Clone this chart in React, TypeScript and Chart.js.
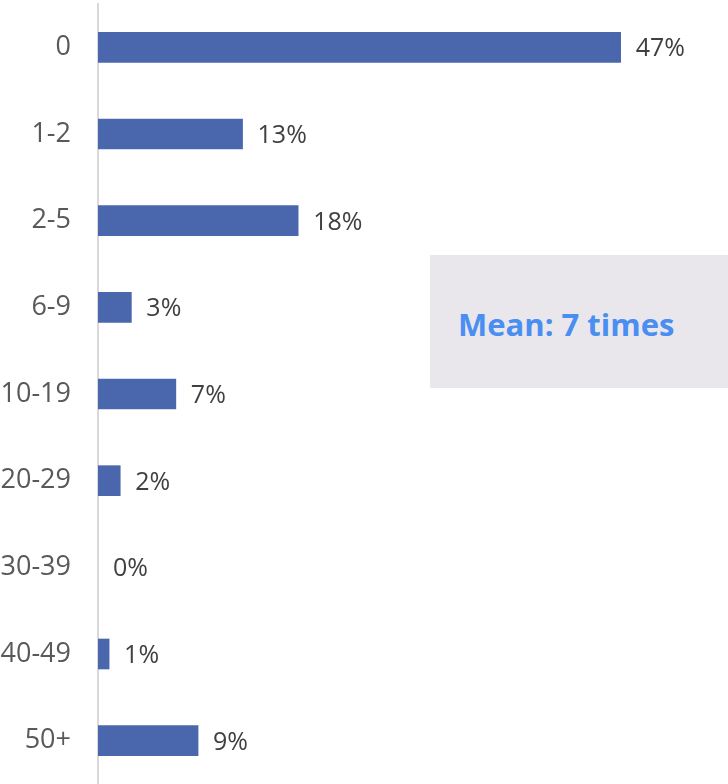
import React, { useEffect, useRef } from "react";
import { Chart, registerables } from "chart.js";

Chart.register(...registerables);

const categories = ["0", "1-2", "2-5", "6-9", "10-19", "20-29", "30-39", "40-49", "50+"];
const values = [47, 13, 18, 3, 7, 2, 0, 1, 9];
const meanLabel = "Mean: 7 times";

const valueLabels = {
  id: "valueLabels",
  afterDatasetsDraw(chart: any) {
    const ctx = chart.ctx;
    const meta = chart.getDatasetMeta(0);
    ctx.save();
    ctx.font = "25px 'Open Sans', sans-serif";
    ctx.fillStyle = "#404040";
    ctx.textAlign = "left";
    ctx.textBaseline = "middle";
    meta.data.forEach((bar: any, i: number) => {
      ctx.fillText(values[i] + "%", bar.x + 15, bar.y + 2);
    });
    ctx.restore();
  },
};

export default function App() {
  const ref = useRef<HTMLCanvasElement>(null);
  useEffect(() => {
    document.body.style.margin = "0";
    const chart = new Chart(ref.current!, {
      type: "bar",
      data: {
        labels: categories,
        datasets: [
          {
            data: values,
            backgroundColor: (c: any) => (c.raw === 0 ? "rgba(0,0,0,0)" : "#4a67ad"),
            barThickness: 30,
          },
        ],
      },
      options: {
        indexAxis: "y",
        animation: false,
        responsive: false,
        layout: { padding: { top: 4, right: 74, bottom: 0, left: 0 } },
        plugins: { legend: { display: false }, tooltip: { enabled: false } },
        scales: {
          x: { display: false, min: 0, max: 50 },
          y: {
            grid: { display: false, drawTicks: false },
            border: { display: true, color: "#d9d9d9", width: 2 },
            ticks: {
              color: "#595959",
              font: { family: "'Open Sans', sans-serif", size: 27 },
              padding: 27,
            },
            afterFit: (scale: any) => {
              scale.width = 98;
              scale.paddingTop = 0;
              scale.paddingBottom = 0;
            },
          },
        },
      },
      plugins: [valueLabels],
    });
    return () => chart.destroy();
  }, []);
  return (
    <div style={{ position: "absolute", left: 0, top: 0, width: 728, height: 784 }}>
      <canvas ref={ref} width={728} height={784} />
      <div
        style={{
          position: "absolute",
          left: 430,
          top: 255,
          width: 298,
          height: 133,
          background: "#e9e7eb",
          display: "flex",
          alignItems: "center",
          boxSizing: "border-box",
          paddingLeft: 28,
          paddingTop: 4,
          fontFamily: "'Open Sans', sans-serif",
          fontWeight: 700,
          fontSize: 31,
          color: "#4a8ef2",
        }}
      >
        {meanLabel}
      </div>
    </div>
  );
}
